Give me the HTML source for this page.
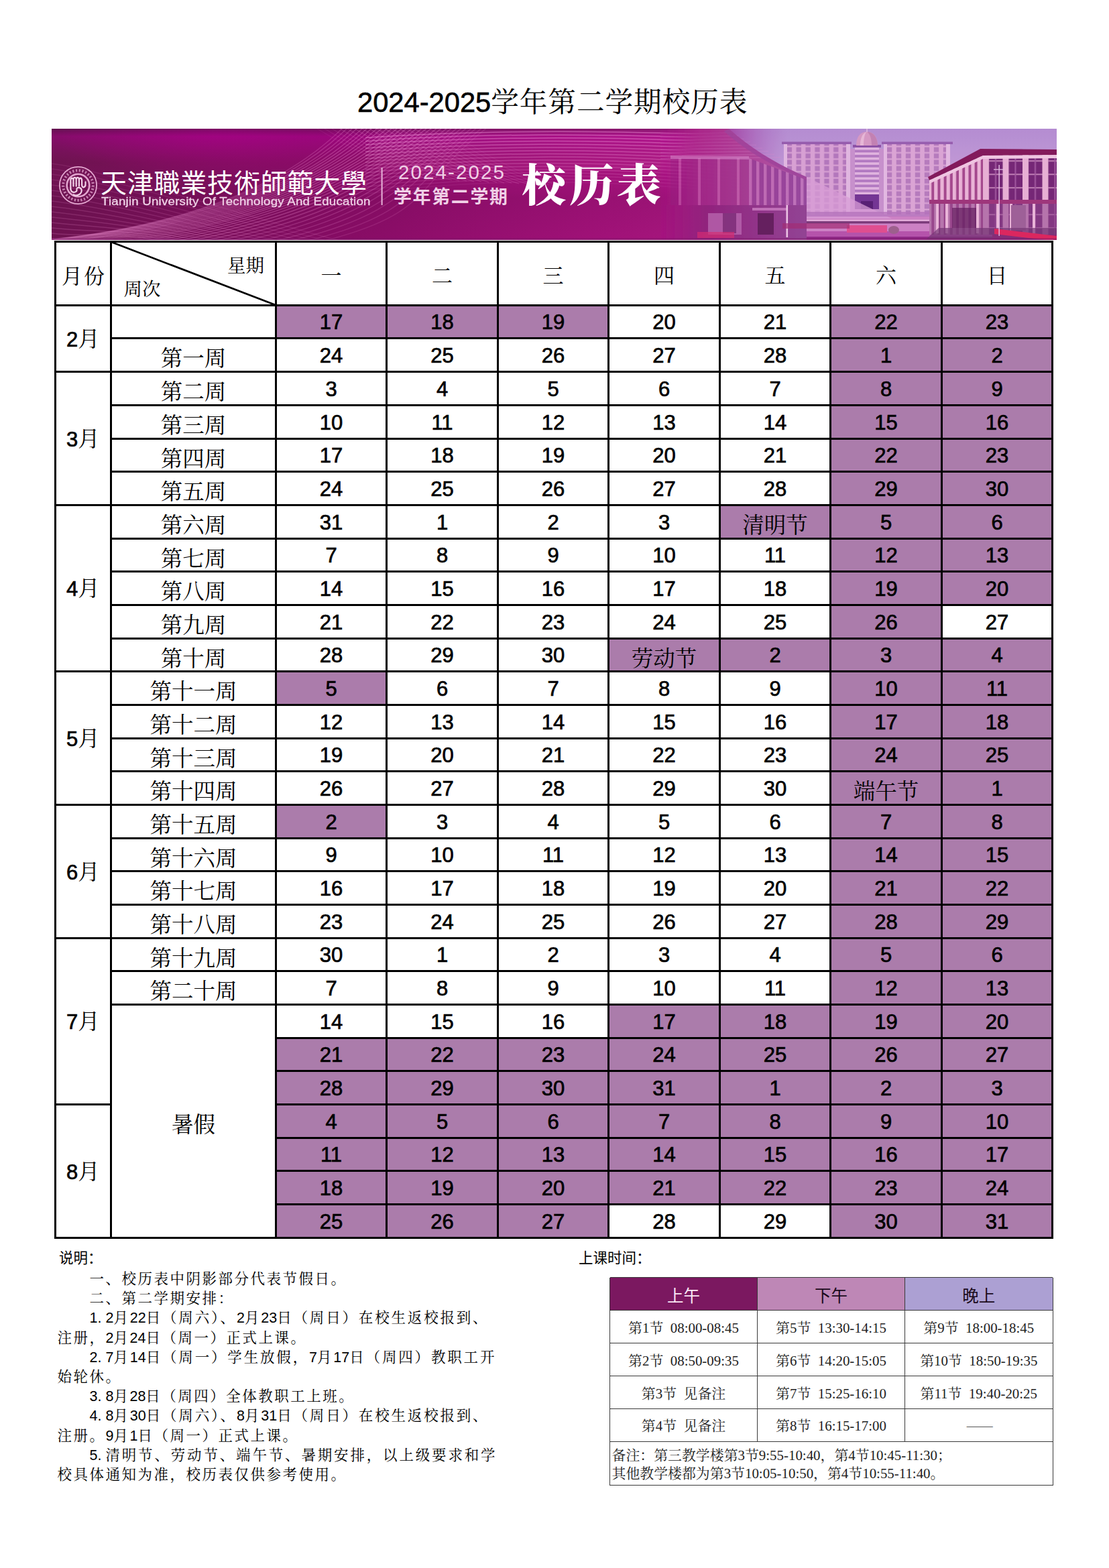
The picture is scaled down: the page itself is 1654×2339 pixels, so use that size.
<!DOCTYPE html>
<html lang="zh-CN">
<head>
<meta charset="utf-8">
<title>2024-2025学年第二学期校历表</title>
<style>
html,body{margin:0;padding:0;background:#fff}
body{width:1654px;height:2339px;position:relative;font-family:"Liberation Sans","Noto Sans CJK SC",sans-serif;color:#000}
#page{position:absolute;left:0;top:0;width:1654px;height:2339px;overflow:hidden;background:#fff}
#page div,#page svg{position:absolute}
.s{font-family:"Liberation Serif","Noto Serif CJK SC",serif}
.n{font-family:"Liberation Sans",sans-serif}
.t{text-align:center;white-space:nowrap;font-size:31px}
.t.n,.mo .n{-webkit-text-stroke:.7px #000}
.w{font-size:32.5px}
.p{background:#ab7cab}
.l{background:#000}
.hei{font-size:21.5px;white-space:nowrap;font-family:"Liberation Sans","Noto Sans CJK SC",sans-serif}
.kai{font-size:21.5px;line-height:30px;white-space:nowrap;font-family:"Liberation Serif","Noto Serif CJK SC",serif}
.kai .d{font-family:"Liberation Sans",sans-serif;font-size:21.5px}
.kai .dot{letter-spacing:6px}
.kai .k{letter-spacing:2.5px}
.kai .k2{letter-spacing:2.83px}
.th{font-size:24.5px;text-align:center;font-family:"Liberation Sans","Noto Sans CJK SC",sans-serif}
.td{font-size:20.9px;text-align:center;white-space:nowrap;color:#222}
.rm{font-size:20.9px;line-height:27.2px;white-space:nowrap;color:#222}
.tl{background:#3a3a3a}
#title{left:533px;top:125px;font-size:41.67px;line-height:56px;white-space:nowrap}
#title .n{-webkit-text-stroke:.6px #000}
#title .s{letter-spacing:.9px}
</style>
</head>
<body>
<div id="page">
<div id="title"><span class="n">2024-2025</span><span class="s">学年第二学期校历表</span></div>
<svg id="banner" style="left:77px;top:192px" width="1499" height="166" viewBox="77 192 1499 166" role="img" aria-label="天津职业技术师范大学 Tianjin University Of Technology And Education 2024-2025 学年第二学期 校历表">
<title>天津职业技术师范大学 2024-2025学年第二学期 校历表</title>
<defs>
<linearGradient id="bgh" x1="77" x2="1576" y1="0" y2="0" gradientUnits="userSpaceOnUse">
<stop offset="0" stop-color="#6e1350"/><stop offset=".12" stop-color="#781058"/><stop offset=".28" stop-color="#880c65"/><stop offset=".42" stop-color="#980f71"/><stop offset=".55" stop-color="#a5127b"/><stop offset=".65" stop-color="#ab1881"/><stop offset="1" stop-color="#ab1881"/>
</linearGradient>
<linearGradient id="bgv" x1="0" x2="0" y1="192" y2="358" gradientUnits="userSpaceOnUse">
<stop offset="0" stop-color="#50104a" stop-opacity=".45"/><stop offset=".07" stop-color="#b0009a" stop-opacity=".35"/><stop offset=".3" stop-color="#a0108a" stop-opacity=".0"/><stop offset=".62" stop-color="#5a0a48" stop-opacity=".18"/><stop offset="1" stop-color="#5a0a48" stop-opacity=".05"/>
</linearGradient>
<radialGradient id="hl1" cx="330" cy="192" r="260" gradientUnits="userSpaceOnUse" gradientTransform="translate(0 192) scale(1 .28) translate(0 -192)">
<stop offset="0" stop-color="#aa0082" stop-opacity=".72"/><stop offset="1" stop-color="#aa0082" stop-opacity="0"/>
</radialGradient>
<linearGradient id="sky" x1="0" x2="0" y1="192" y2="330" gradientUnits="userSpaceOnUse">
<stop offset="0" stop-color="#b49cd8"/><stop offset=".5" stop-color="#c6addf"/><stop offset="1" stop-color="#dcbde2"/>
</linearGradient>
<linearGradient id="skyfade" x1="1085" x2="1175" y1="0" y2="0" gradientUnits="userSpaceOnUse">
<stop offset="0" stop-color="#a040a0" stop-opacity=".85"/><stop offset="1" stop-color="#a66cc0" stop-opacity="0"/>
</linearGradient>
<linearGradient id="lb" x1="985" x2="1205" y1="0" y2="0" gradientUnits="userSpaceOnUse">
<stop offset="0" stop-color="#a5167f" stop-opacity="0"/><stop offset=".25" stop-color="#aa2a88" stop-opacity=".9"/><stop offset=".6" stop-color="#ae4a98"/><stop offset="1" stop-color="#aa64aa"/>
</linearGradient>
<linearGradient id="lbd" x1="985" x2="1205" y1="0" y2="0" gradientUnits="userSpaceOnUse">
<stop offset="0" stop-color="#8c1274" stop-opacity="0"/><stop offset=".3" stop-color="#8a2478" stop-opacity=".9"/><stop offset="1" stop-color="#8e4a94"/>
</linearGradient>
<pattern id="winA" x="1169" y="218" width="13.9" height="9.4" patternUnits="userSpaceOnUse">
<rect width="13.9" height="9.4" fill="#dcb2da"/><rect x="4.6" y="1.6" width="7.4" height="7.2" fill="#b384c0"/>
</pattern>
<pattern id="winB" x="1318" y="218" width="14" height="9.4" patternUnits="userSpaceOnUse">
<rect width="14" height="9.4" fill="#dfb6dc"/><rect x="4.8" y="1.6" width="7.4" height="7.2" fill="#b688c2"/>
</pattern>
<pattern id="twr" x="1275" y="220" width="36" height="7.4" patternUnits="userSpaceOnUse">
<rect width="36" height="7.4" fill="#e6c8e8"/><rect y="3.6" width="36" height="3.8" fill="#b286c6"/>
</pattern>
<pattern id="rbF" x="1466" y="231" width="29.5" height="20" patternUnits="userSpaceOnUse">
<rect width="29.5" height="20" fill="#6d2c72"/><rect x="0" width="9" height="20" fill="#eec3dc"/><rect x="9" y="8" width="20.5" height="2.2" fill="#b880b0"/><rect x="18" width="2" height="20" fill="#a060a0"/>
</pattern>
<pattern id="rbS" x="1384" y="231" width="9.2" height="20" patternUnits="userSpaceOnUse">
<rect width="9.2" height="20" fill="#f0c7de"/><rect x="5.2" width="4" height="20" fill="#a2508c"/>
</pattern>
<pattern id="lbcol" x="1012" y="236" width="29" height="70" patternUnits="userSpaceOnUse">
<rect x="0" width="4" height="70" fill="#e0a0d0" fill-opacity=".34"/><rect x="4" width="25" height="70" fill="#7a2a7c" fill-opacity=".22"/>
</pattern>
<pattern id="lbcol2" x="1117" y="236" width="11" height="70" patternUnits="userSpaceOnUse">
<rect x="0" width="4.5" height="70" fill="#d9a6dc" fill-opacity=".42"/><rect x="4.5" width="6.5" height="70" fill="#7b3c93" fill-opacity=".45"/>
</pattern>
<filter id="soft" x="-2%" y="-5%" width="104%" height="110%"><feGaussianBlur stdDeviation=".75"/></filter>
<clipPath id="bc"><rect x="77" y="192" width="1499" height="166"/></clipPath>
</defs>
<g clip-path="url(#bc)">
<rect x="77" y="192" width="1499" height="166" fill="url(#bgh)"/>
<rect x="77" y="192" width="1499" height="166" fill="url(#hl1)"/>
<rect x="77" y="192" width="1499" height="166" fill="url(#bgv)"/>
<g fill="none" stroke="#ff9fe2" stroke-width="1.5">
<path d="M77 244.0C150 252 390 330 510 360" stroke-opacity="0.10"/>
<path d="M77 252.0C150 260 371 331 491 360" stroke-opacity="0.11"/>
<path d="M77 260.0C150 268 353 331 473 360" stroke-opacity="0.11"/>
<path d="M77 268.0C150 276 334 332 454 360" stroke-opacity="0.12"/>
<path d="M77 276.0C150 284 316 333 436 360" stroke-opacity="0.13"/>
<path d="M77 284.0C150 292 297 334 417 360" stroke-opacity="0.14"/>
<path d="M77 292.0C150 300 279 334 399 360" stroke-opacity="0.14"/>
<path d="M77 300.0C150 308 260 335 380 360" stroke-opacity="0.15"/>
<path d="M77 308.0C150 316 241 336 361 360" stroke-opacity="0.16"/>
<path d="M77 316.0C150 324 223 336 343 360" stroke-opacity="0.16"/>
<path d="M77 324.0C150 332 204 337 324 360" stroke-opacity="0.17"/>
<path d="M77 332.0C150 340 186 338 306 360" stroke-opacity="0.18"/>
<path d="M77 340.0C150 348 167 339 287 360" stroke-opacity="0.19"/>
<path d="M77 348.0C150 356 149 339 269 360" stroke-opacity="0.19"/>
<path d="M77 356.0C150 364 130 340 250 360" stroke-opacity="0.20"/>
<path d="M40 360C210 348 402 300 512 190" stroke-opacity="0.21"/>
<path d="M45 360C215 347 409 299 519 190" stroke-opacity="0.22"/>
<path d="M51 360C221 346 417 298 527 190" stroke-opacity="0.23"/>
<path d="M58 360C228 345 424 297 534 190" stroke-opacity="0.25"/>
<path d="M65 360C235 344 432 297 542 190" stroke-opacity="0.26"/>
<path d="M73 360C243 343 439 296 549 190" stroke-opacity="0.27"/>
<path d="M82 360C252 342 446 295 556 190" stroke-opacity="0.28"/>
<path d="M91 360C261 341 454 294 564 190" stroke-opacity="0.28"/>
<path d="M101 360C271 340 461 293 571 190" stroke-opacity="0.29"/>
<path d="M112 360C282 339 469 292 579 190" stroke-opacity="0.29"/>
<path d="M124 360C294 338 476 291 586 190" stroke-opacity="0.30"/>
<path d="M136 360C306 337 484 291 594 190" stroke-opacity="0.30"/>
<path d="M149 360C319 336 491 290 601 190" stroke-opacity="0.30"/>
<path d="M163 360C333 335 498 289 608 190" stroke-opacity="0.30"/>
<path d="M178 360C348 334 506 288 616 190" stroke-opacity="0.30"/>
<path d="M193 360C363 332 513 287 623 190" stroke-opacity="0.29"/>
<path d="M209 360C379 331 521 286 631 190" stroke-opacity="0.29"/>
<path d="M225 360C395 330 528 285 638 190" stroke-opacity="0.28"/>
<path d="M242 360C412 329 535 284 645 190" stroke-opacity="0.27"/>
<path d="M260 360C430 328 543 284 653 190" stroke-opacity="0.27"/>
<path d="M279 360C449 327 550 283 660 190" stroke-opacity="0.26"/>
<path d="M299 360C469 326 558 282 668 190" stroke-opacity="0.24"/>
<path d="M319 360C489 325 565 281 675 190" stroke-opacity="0.23"/>
<path d="M340 360C510 324 573 280 683 190" stroke-opacity="0.22"/>
<path d="M361 360C531 323 580 279 690 190" stroke-opacity="0.21"/>
<path d="M384 360C554 322 587 278 697 190" stroke-opacity="0.19"/>
<path d="M407 360C577 321 595 278 705 190" stroke-opacity="0.18"/>
<path d="M430 360C600 320 602 277 712 190" stroke-opacity="0.16"/>
<path d="M455 360C625 319 610 276 720 190" stroke-opacity="0.15"/>
<path d="M480 360C650 318 617 275 727 190" stroke-opacity="0.13"/>
<path d="M470 190C510 215 560 240 640 268" stroke-opacity="0.08" stroke-width="1.2"/>
<path d="M481 190C521 215 571 241 651 268" stroke-opacity="0.10" stroke-width="1.2"/>
<path d="M492 190C532 215 582 241 662 269" stroke-opacity="0.12" stroke-width="1.2"/>
<path d="M504 190C544 215 594 242 674 269" stroke-opacity="0.14" stroke-width="1.2"/>
<path d="M515 190C555 215 605 242 685 270" stroke-opacity="0.16" stroke-width="1.2"/>
<path d="M526 190C566 215 616 243 696 270" stroke-opacity="0.18" stroke-width="1.2"/>
<path d="M537 190C577 215 627 244 707 271" stroke-opacity="0.19" stroke-width="1.2"/>
<path d="M548 190C588 215 638 244 718 271" stroke-opacity="0.20" stroke-width="1.2"/>
<path d="M559 190C599 215 649 245 729 272" stroke-opacity="0.20" stroke-width="1.2"/>
<path d="M571 190C611 215 661 245 741 272" stroke-opacity="0.20" stroke-width="1.2"/>
<path d="M582 190C622 215 672 246 752 273" stroke-opacity="0.20" stroke-width="1.2"/>
<path d="M593 190C633 215 683 246 763 273" stroke-opacity="0.19" stroke-width="1.2"/>
<path d="M604 190C644 215 694 247 774 274" stroke-opacity="0.18" stroke-width="1.2"/>
<path d="M615 190C655 215 705 248 785 274" stroke-opacity="0.16" stroke-width="1.2"/>
<path d="M626 190C666 215 716 248 796 275" stroke-opacity="0.14" stroke-width="1.2"/>
<path d="M638 190C678 215 728 249 808 275" stroke-opacity="0.12" stroke-width="1.2"/>
<path d="M649 190C689 215 739 249 819 276" stroke-opacity="0.10" stroke-width="1.2"/>
<path d="M660 190C700 215 750 250 830 276" stroke-opacity="0.08" stroke-width="1.2"/>
<path d="M545 205.5C700 194.5 900 193.5 1110 202.5" stroke="#ffb2ea" stroke-opacity="0.41" stroke-width="1.5"/>
<path d="M545 210.8C700 199.0 900 198.0 1110 207.9" stroke="#ffb2ea" stroke-opacity="0.39" stroke-width="1.5"/>
<path d="M545 216.0C700 203.5 900 202.5 1110 213.2" stroke="#ffb2ea" stroke-opacity="0.38" stroke-width="1.5"/>
<path d="M545 221.2C700 208.0 900 207.0 1110 218.6" stroke="#ffb2ea" stroke-opacity="0.36" stroke-width="1.5"/>
<path d="M545 226.5C700 212.5 900 211.5 1110 224.0" stroke="#ffb2ea" stroke-opacity="0.34" stroke-width="1.5"/>
<path d="M545 231.8C700 217.0 900 216.0 1110 229.4" stroke="#ffb2ea" stroke-opacity="0.32" stroke-width="1.5"/>
<path d="M545 237.0C700 221.5 900 220.5 1110 234.8" stroke="#ffb2ea" stroke-opacity="0.30" stroke-width="1.5"/>
<path d="M545 242.2C700 226.0 900 225.0 1110 240.1" stroke="#ffb2ea" stroke-opacity="0.28" stroke-width="1.5"/>
<path d="M545 247.5C700 230.5 900 229.5 1110 245.5" stroke="#ffb2ea" stroke-opacity="0.27" stroke-width="1.5"/>
<path d="M545 252.8C700 235.0 900 234.0 1110 250.9" stroke="#ffb2ea" stroke-opacity="0.25" stroke-width="1.5"/>
<path d="M545 258.0C700 239.5 900 238.5 1110 256.2" stroke="#ffb2ea" stroke-opacity="0.23" stroke-width="1.5"/>
<path d="M545 263.2C700 244.0 900 243.0 1110 261.6" stroke="#ffb2ea" stroke-opacity="0.20" stroke-width="1.5"/>
<path d="M545 268.5C700 248.5 900 247.5 1110 267.0" stroke="#ffb2ea" stroke-opacity="0.18" stroke-width="1.5"/>
<path d="M545 273.8C700 253.0 900 252.0 1110 272.4" stroke="#ffb2ea" stroke-opacity="0.16" stroke-width="1.5"/>
<path d="M545 279.0C700 257.5 900 256.5 1110 277.8" stroke="#ffb2ea" stroke-opacity="0.13" stroke-width="1.5"/>
<path d="M545 284.2C700 262.0 900 261.0 1110 283.1" stroke="#ffb2ea" stroke-opacity="0.11" stroke-width="1.5"/>
<path d="M545 289.5C700 266.5 900 265.5 1110 288.5" stroke="#ffb2ea" stroke-opacity="0.07" stroke-width="1.5"/>
</g>
<rect x="560" y="192" width="560" height="64" fill="#e070c8" fill-opacity=".07"/>
<g id="photo" filter="url(#soft)">
<path d="M1087 192H1576V330H1203Z" fill="url(#sky)"/>
<path d="M1087 192H1260V300H1203Z" fill="url(#skyfade)"/>
<rect x="1169" y="214" width="99" height="108" fill="url(#winA)"/>
<rect x="1166" y="211.5" width="104" height="3.6" fill="#9266b0"/>
<rect x="1169" y="215" width="5" height="107" fill="#e6cbe9"/><rect x="1262" y="215" width="6" height="107" fill="#e6cbe9"/>
<rect x="1318" y="214" width="99" height="106" fill="url(#winB)"/>
<rect x="1315" y="211.5" width="106" height="3.6" fill="#9468b2"/>
<rect x="1318" y="215" width="5" height="105" fill="#e8cdea"/><rect x="1411" y="215" width="6" height="105" fill="#e8cdea"/>
<rect x="1268" y="222" width="50" height="98" fill="#c9a0d2"/>
<rect x="1275" y="218" width="36" height="74" fill="url(#twr)"/>
<rect x="1275" y="290" width="36" height="22" fill="#6c3a94"/><rect x="1284" y="300" width="18" height="12" fill="#4e2470"/>
<rect x="1272" y="216" width="42" height="4" fill="#8a5aa8"/>
<path d="M1277 217C1277 203 1284 196.5 1293 196.5C1302 196.5 1309 203 1309 217Z" fill="#d9a9c8"/>
<path d="M1283 217C1283 205 1287 198 1293 196.5C1290 198 1288 206 1288 217Z" fill="#f0d4e4" fill-opacity=".8"/>
<path d="M1300 217C1300 206 1297 199 1293 196.5C1302 197 1309 204 1309 217Z" fill="#b27aa8" fill-opacity=".55"/>
<rect x="1292.3" y="192" width="1.4" height="5" fill="#e8d0e8"/>
<path d="M1160 322H1440V358H1100Z" fill="#cf8fca"/>
<path d="M1203 264L1330 326H1203Z" fill="#dcaedd" fill-opacity=".75"/>
<rect x="1165" y="316" width="260" height="7" fill="#b57fc0" fill-opacity=".8"/>
<rect x="1170" y="330" width="235" height="3.4" fill="#5d2a60" fill-opacity=".8"/>
<rect x="1170" y="327.5" width="235" height="2.5" fill="#f0d0ea" fill-opacity=".7"/>
<rect x="1100" y="345" width="380" height="13" fill="#b55cae"/>
<rect x="1100" y="353" width="380" height="5" fill="#8d2f86"/>
<rect x="1263" y="336" width="60" height="11" fill="#e4578f"/>
<ellipse cx="1333" cy="343" rx="8" ry="6" fill="#9a6a8c"/>
<path d="M985 192H1087C1120 222 1160 246 1203 264V358H985Z" fill="url(#lb)"/>
<path d="M1000 236H1117V306H1000Z" fill="url(#lbcol)"/>
<path d="M1117 236L1203 268V310H1117Z" fill="url(#lbcol2)"/>
<path d="M985 200.0L1092 198.0" stroke="#e29ad6" stroke-opacity="0.10" stroke-width="1.6" fill="none"/>
<path d="M985 204.6L1101 202.6" stroke="#e29ad6" stroke-opacity="0.12" stroke-width="1.6" fill="none"/>
<path d="M985 209.2L1110 207.2" stroke="#e29ad6" stroke-opacity="0.14" stroke-width="1.6" fill="none"/>
<path d="M985 213.8L1119 211.8" stroke="#e29ad6" stroke-opacity="0.16" stroke-width="1.6" fill="none"/>
<path d="M985 218.4L1128 216.4" stroke="#e29ad6" stroke-opacity="0.18" stroke-width="1.6" fill="none"/>
<path d="M985 223.0L1137 221.0" stroke="#e29ad6" stroke-opacity="0.20" stroke-width="1.6" fill="none"/>
<path d="M985 227.6L1146 225.6" stroke="#e29ad6" stroke-opacity="0.22" stroke-width="1.6" fill="none"/>
<path d="M985 232.2L1155 230.2" stroke="#e29ad6" stroke-opacity="0.24" stroke-width="1.6" fill="none"/>
<path d="M985 236.8L1164 234.8" stroke="#e29ad6" stroke-opacity="0.26" stroke-width="1.6" fill="none"/>
<path d="M1087 192C1120 222 1160 246 1203 264L1203 269C1160 251 1115 228 1080 196Z" fill="#9b4a9b" fill-opacity=".8"/>
<path d="M1000 232L1117 233L1117 238L1000 237Z" fill="#dd9fd6" fill-opacity=".5"/>
<path d="M985 306H1203V358H985Z" fill="url(#lbd)"/>
<rect x="1056" y="318" width="50" height="32" fill="#bb74b4" fill-opacity=".75"/><rect x="1078" y="318" width="20" height="30" fill="#6a2668" fill-opacity=".7"/>
<rect x="1122" y="310" width="52" height="4" fill="#d08cc8" fill-opacity=".8"/><rect x="1130" y="318" width="24" height="32" fill="#4b1848" fill-opacity=".75"/>
<rect x="1172.5" y="306" width="2.6" height="48" fill="#f3d8ee"/>
<rect x="1040" y="346" width="55" height="9" fill="#d8306e" fill-opacity=".7"/>
<rect x="1167" y="333" width="100" height="8" fill="#a03070" fill-opacity=".7"/>
<path d="M1386 268L1466 231V350H1386Z" fill="url(#rbS)"/>
<rect x="1466" y="231" width="110" height="119" fill="url(#rbF)"/>
<path d="M1384 264L1462 222L1576 223V231L1466 232L1386 269Z" fill="#7d1c55"/>
<path d="M1386 269L1466 232L1576 231V236L1466 237L1386 274Z" fill="#f6dcea"/>
<path d="M1386 298L1466 298H1576V304H1386Z" fill="#9c3a78"/>
<path d="M1386 304H1576V350H1386Z" fill="#8a4a8a" fill-opacity=".55"/>
<rect x="1420" y="310" width="36" height="30" fill="#5a2058" fill-opacity=".7"/>
<rect x="1396" y="304" width="4" height="44" fill="#f0c8e0"/>
<rect x="1410" y="304" width="4" height="44" fill="#f0c8e0"/>
<rect x="1456" y="304" width="4" height="44" fill="#f0c8e0"/>
<rect x="1486" y="304" width="4" height="44" fill="#f0c8e0"/>
<rect x="1506" y="304" width="4" height="44" fill="#f0c8e0"/>
<rect x="1540" y="304" width="4" height="44" fill="#f0c8e0"/>
<rect x="1508" y="306" width="22" height="38" fill="#9c6a98"/>
<path d="M1400 340H1576V358H1380Z" fill="#6d3a70" fill-opacity=".7"/>
<path d="M1483 341L1576 352V358H1560L1483 349Z" fill="#e02a58"/>
<rect x="1489.4" y="246" width="1.6" height="106" fill="#e8d0ea" fill-opacity=".9"/><rect x="1482" y="252" width="16" height="1.6" fill="#e8d0ea" fill-opacity=".8"/>
</g>
<rect x="985" y="192" width="591" height="166" fill="#b8109a" fill-opacity=".11"/>
<rect x="77" y="355.5" width="1499" height="2.5" fill="#7d1a6a" fill-opacity=".55"/>
<g fill="none" stroke="#e3a6cf">
<circle cx="116.5" cy="276.5" r="27.6" stroke-width="1.8"/>
<circle cx="116.5" cy="276.5" r="16.8" stroke-width="2.6"/>
<circle cx="116.5" cy="276.5" r="22.3" stroke-width="4" stroke-dasharray="2.2 2.6" stroke-opacity=".75"/>
<g transform="translate(116.5 277.3) scale(1.28) translate(-116.2 -277.2)" stroke="#f3d5ea" stroke-width="1.7" stroke-linecap="round" stroke-linejoin="round">
<path d="M107.5 281V271C107.5 267.4 110.7 267.4 110.7 271V277.5M110.7 271C110.7 266.2 114 266.2 114 271V277.5M114 271C114 266.2 117.3 266.2 117.3 271V277.5M117.3 271.5C117.3 267 120.6 267 120.6 271.5V276C120.6 280 124.8 279.6 124.8 275.5V272.5"/>
<path d="M107.5 281C108.5 286.5 115.5 285 114.6 281.4C113.8 278 120.8 278.3 120.2 283.4C119.7 287.6 113.6 289.4 110.8 287.4"/>
</g>
</g>
<text x="150" y="287" font-size="39" fill="#fff" textLength="397" lengthAdjust="spacing" style="font-family:'Liberation Sans','Noto Sans CJK TC',sans-serif">天津職業技術師範大學</text>
<rect x="568.6" y="250" width="2" height="56" fill="#e7b3d9"/>
<text x="587" y="303" font-size="27" font-weight="bold" fill="#f0cfe6" textLength="170" lengthAdjust="spacing" style="font-family:'Liberation Sans','Noto Sans CJK SC',sans-serif">学年第二学期</text>
<text x="778" y="300" font-size="66" font-weight="900" fill="#fff" textLength="208" lengthAdjust="spacing" style="font-family:'Liberation Serif','Noto Serif CJK SC',serif">校历表</text>
</g>
</svg>
<div id="ben" style="left:151px;top:289.8px;font-size:17.4px;line-height:20px;color:#f0d3e8;white-space:nowrap;letter-spacing:.2px;-webkit-text-stroke:.3px #f0d3e8;transform:scaleX(1.075);transform-origin:0 0">Tianjin University Of Technology And Education</div>
<div id="byr" style="left:594px;top:240px;font-size:29.5px;line-height:34px;color:#f0cfe6;white-space:nowrap;letter-spacing:2.1px">2024-2025</div>
<div id="grid">
<div class="p" style="left:410px;top:454px;width:499px;height:52px"></div>
<div class="p" style="left:1237px;top:454px;width:334px;height:52px"></div>
<div class="p" style="left:1237px;top:503px;width:334px;height:53px"></div>
<div class="p" style="left:1237px;top:553px;width:334px;height:53px"></div>
<div class="p" style="left:1237px;top:603px;width:334px;height:53px"></div>
<div class="p" style="left:1237px;top:653px;width:334px;height:52px"></div>
<div class="p" style="left:1237px;top:702px;width:334px;height:53px"></div>
<div class="p" style="left:1072px;top:752px;width:499px;height:53px"></div>
<div class="p" style="left:1237px;top:802px;width:334px;height:52px"></div>
<div class="p" style="left:1237px;top:851px;width:334px;height:53px"></div>
<div class="p" style="left:1237px;top:901px;width:169px;height:53px"></div>
<div class="p" style="left:906px;top:951px;width:665px;height:52px"></div>
<div class="p" style="left:410px;top:1000px;width:168px;height:53px"></div>
<div class="p" style="left:1237px;top:1000px;width:334px;height:53px"></div>
<div class="p" style="left:1237px;top:1050px;width:334px;height:53px"></div>
<div class="p" style="left:1237px;top:1100px;width:334px;height:52px"></div>
<div class="p" style="left:1237px;top:1149px;width:334px;height:53px"></div>
<div class="p" style="left:410px;top:1199px;width:168px;height:53px"></div>
<div class="p" style="left:1237px;top:1199px;width:334px;height:53px"></div>
<div class="p" style="left:1237px;top:1249px;width:334px;height:52px"></div>
<div class="p" style="left:1237px;top:1298px;width:334px;height:53px"></div>
<div class="p" style="left:1237px;top:1348px;width:334px;height:53px"></div>
<div class="p" style="left:1237px;top:1398px;width:334px;height:52px"></div>
<div class="p" style="left:1237px;top:1447px;width:334px;height:53px"></div>
<div class="p" style="left:906px;top:1497px;width:665px;height:53px"></div>
<div class="p" style="left:410px;top:1547px;width:1161px;height:52px"></div>
<div class="p" style="left:410px;top:1596px;width:1161px;height:53px"></div>
<div class="p" style="left:410px;top:1646px;width:1161px;height:53px"></div>
<div class="p" style="left:410px;top:1696px;width:1161px;height:52px"></div>
<div class="p" style="left:410px;top:1745px;width:1161px;height:53px"></div>
<div class="p" style="left:410px;top:1795px;width:499px;height:53px"></div>
<div class="p" style="left:1237px;top:1795px;width:334px;height:53px"></div>
<div class="l" style="left:81px;top:359px;width:3px;height:1489px"></div>
<div class="l" style="left:164px;top:359px;width:3px;height:1489px"></div>
<div class="l" style="left:410px;top:359px;width:3px;height:1489px"></div>
<div class="l" style="left:575px;top:359px;width:3px;height:1489px"></div>
<div class="l" style="left:741px;top:359px;width:3px;height:1489px"></div>
<div class="l" style="left:906px;top:359px;width:3px;height:1489px"></div>
<div class="l" style="left:1072px;top:359px;width:3px;height:1489px"></div>
<div class="l" style="left:1237px;top:359px;width:3px;height:1489px"></div>
<div class="l" style="left:1403px;top:359px;width:3px;height:1489px"></div>
<div class="l" style="left:1568px;top:359px;width:3px;height:1489px"></div>
<div class="l" style="left:81px;top:359px;width:1490px;height:3px"></div>
<div class="l" style="left:81px;top:454px;width:1490px;height:3px"></div>
<div class="l" style="left:164px;top:503px;width:1407px;height:3px"></div>
<div class="l" style="left:81px;top:553px;width:1490px;height:3px"></div>
<div class="l" style="left:164px;top:603px;width:1407px;height:3px"></div>
<div class="l" style="left:164px;top:653px;width:1407px;height:3px"></div>
<div class="l" style="left:164px;top:702px;width:1407px;height:3px"></div>
<div class="l" style="left:81px;top:752px;width:1490px;height:3px"></div>
<div class="l" style="left:164px;top:802px;width:1407px;height:3px"></div>
<div class="l" style="left:164px;top:851px;width:1407px;height:3px"></div>
<div class="l" style="left:164px;top:901px;width:1407px;height:3px"></div>
<div class="l" style="left:164px;top:951px;width:1407px;height:3px"></div>
<div class="l" style="left:81px;top:1000px;width:1490px;height:3px"></div>
<div class="l" style="left:164px;top:1050px;width:1407px;height:3px"></div>
<div class="l" style="left:164px;top:1100px;width:1407px;height:3px"></div>
<div class="l" style="left:164px;top:1149px;width:1407px;height:3px"></div>
<div class="l" style="left:81px;top:1199px;width:1490px;height:3px"></div>
<div class="l" style="left:164px;top:1249px;width:1407px;height:3px"></div>
<div class="l" style="left:164px;top:1298px;width:1407px;height:3px"></div>
<div class="l" style="left:164px;top:1348px;width:1407px;height:3px"></div>
<div class="l" style="left:81px;top:1398px;width:1490px;height:3px"></div>
<div class="l" style="left:164px;top:1447px;width:1407px;height:3px"></div>
<div class="l" style="left:164px;top:1497px;width:1407px;height:3px"></div>
<div class="l" style="left:410px;top:1547px;width:1161px;height:3px"></div>
<div class="l" style="left:410px;top:1596px;width:1161px;height:3px"></div>
<div class="l" style="left:81px;top:1646px;width:86px;height:3px"></div>
<div class="l" style="left:410px;top:1646px;width:1161px;height:3px"></div>
<div class="l" style="left:410px;top:1696px;width:1161px;height:3px"></div>
<div class="l" style="left:410px;top:1745px;width:1161px;height:3px"></div>
<div class="l" style="left:410px;top:1795px;width:1161px;height:3px"></div>
<div class="l" style="left:81px;top:1845px;width:1490px;height:3px"></div>
<svg class="dg" style="left:164px;top:359px" width="249" height="98"><line x1="2" y1="2" x2="247" y2="96" stroke="#000" stroke-width="2.6"/></svg>
</div>
<div class="t s" style="left:84px;top:367.4px;width:80px;height:92px;line-height:92px;"><span style="letter-spacing:2px;margin-right:-2px">月份</span></div>
<div class="t s" style="left:294px;top:378.1px;width:100px;text-align:right;line-height:36px"><span style="font-size:27.5px">星期</span></div>
<div class="t s" style="left:184.5px;top:413.1px;width:100px;text-align:left;line-height:36px"><span style="font-size:27.5px">周次</span></div>
<div class="t s" style="left:413px;top:366.4px;width:162px;height:92px;line-height:92px;">一</div>
<div class="t s" style="left:578px;top:366.4px;width:163px;height:92px;line-height:92px;">二</div>
<div class="t s" style="left:744px;top:366.4px;width:162px;height:92px;line-height:92px;">三</div>
<div class="t s" style="left:909px;top:366.4px;width:163px;height:92px;line-height:92px;">四</div>
<div class="t s" style="left:1075px;top:366.4px;width:162px;height:92px;line-height:92px;">五</div>
<div class="t s" style="left:1240px;top:366.4px;width:163px;height:92px;line-height:92px;">六</div>
<div class="t s" style="left:1406px;top:366.4px;width:162px;height:92px;line-height:92px;">日</div>
<div class="t mo" style="left:84px;top:458px;width:80px;height:96px;line-height:96px;"><span class="n">2</span><span class="s w">月</span></div>
<div class="t mo" style="left:84px;top:557px;width:80px;height:196px;line-height:196px;"><span class="n">3</span><span class="s w">月</span></div>
<div class="t mo" style="left:84px;top:756px;width:80px;height:245px;line-height:245px;"><span class="n">4</span><span class="s w">月</span></div>
<div class="t mo" style="left:84px;top:1004px;width:80px;height:196px;line-height:196px;"><span class="n">5</span><span class="s w">月</span></div>
<div class="t mo" style="left:84px;top:1203px;width:80px;height:196px;line-height:196px;"><span class="n">6</span><span class="s w">月</span></div>
<div class="t mo" style="left:84px;top:1402px;width:80px;height:245px;line-height:245px;"><span class="n">7</span><span class="s w">月</span></div>
<div class="t mo" style="left:84px;top:1650px;width:80px;height:196px;line-height:196px;"><span class="n">8</span><span class="s w">月</span></div>
<div class="t n" style="left:413px;top:457.7px;width:162px;height:46px;line-height:46px;">17</div>
<div class="t n" style="left:578px;top:457.7px;width:163px;height:46px;line-height:46px;">18</div>
<div class="t n" style="left:744px;top:457.7px;width:162px;height:46px;line-height:46px;">19</div>
<div class="t n" style="left:909px;top:457.7px;width:163px;height:46px;line-height:46px;">20</div>
<div class="t n" style="left:1075px;top:457.7px;width:162px;height:46px;line-height:46px;">21</div>
<div class="t n" style="left:1240px;top:457.7px;width:163px;height:46px;line-height:46px;">22</div>
<div class="t n" style="left:1406px;top:457.7px;width:162px;height:46px;line-height:46px;">23</div>
<div class="t s" style="left:167px;top:511.5px;width:243px;height:47px;line-height:47px;"><span class="w">第一周</span></div>
<div class="t n" style="left:413px;top:506.7px;width:162px;height:47px;line-height:47px;">24</div>
<div class="t n" style="left:578px;top:506.7px;width:163px;height:47px;line-height:47px;">25</div>
<div class="t n" style="left:744px;top:506.7px;width:162px;height:47px;line-height:47px;">26</div>
<div class="t n" style="left:909px;top:506.7px;width:163px;height:47px;line-height:47px;">27</div>
<div class="t n" style="left:1075px;top:506.7px;width:162px;height:47px;line-height:47px;">28</div>
<div class="t n" style="left:1240px;top:506.7px;width:163px;height:47px;line-height:47px;">1</div>
<div class="t n" style="left:1406px;top:506.7px;width:162px;height:47px;line-height:47px;">2</div>
<div class="t s" style="left:167px;top:561.5px;width:243px;height:47px;line-height:47px;"><span class="w">第二周</span></div>
<div class="t n" style="left:413px;top:556.7px;width:162px;height:47px;line-height:47px;">3</div>
<div class="t n" style="left:578px;top:556.7px;width:163px;height:47px;line-height:47px;">4</div>
<div class="t n" style="left:744px;top:556.7px;width:162px;height:47px;line-height:47px;">5</div>
<div class="t n" style="left:909px;top:556.7px;width:163px;height:47px;line-height:47px;">6</div>
<div class="t n" style="left:1075px;top:556.7px;width:162px;height:47px;line-height:47px;">7</div>
<div class="t n" style="left:1240px;top:556.7px;width:163px;height:47px;line-height:47px;">8</div>
<div class="t n" style="left:1406px;top:556.7px;width:162px;height:47px;line-height:47px;">9</div>
<div class="t s" style="left:167px;top:611.5px;width:243px;height:47px;line-height:47px;"><span class="w">第三周</span></div>
<div class="t n" style="left:413px;top:606.7px;width:162px;height:47px;line-height:47px;">10</div>
<div class="t n" style="left:578px;top:606.7px;width:163px;height:47px;line-height:47px;">11</div>
<div class="t n" style="left:744px;top:606.7px;width:162px;height:47px;line-height:47px;">12</div>
<div class="t n" style="left:909px;top:606.7px;width:163px;height:47px;line-height:47px;">13</div>
<div class="t n" style="left:1075px;top:606.7px;width:162px;height:47px;line-height:47px;">14</div>
<div class="t n" style="left:1240px;top:606.7px;width:163px;height:47px;line-height:47px;">15</div>
<div class="t n" style="left:1406px;top:606.7px;width:162px;height:47px;line-height:47px;">16</div>
<div class="t s" style="left:167px;top:661.5px;width:243px;height:46px;line-height:46px;"><span class="w">第四周</span></div>
<div class="t n" style="left:413px;top:656.7px;width:162px;height:46px;line-height:46px;">17</div>
<div class="t n" style="left:578px;top:656.7px;width:163px;height:46px;line-height:46px;">18</div>
<div class="t n" style="left:744px;top:656.7px;width:162px;height:46px;line-height:46px;">19</div>
<div class="t n" style="left:909px;top:656.7px;width:163px;height:46px;line-height:46px;">20</div>
<div class="t n" style="left:1075px;top:656.7px;width:162px;height:46px;line-height:46px;">21</div>
<div class="t n" style="left:1240px;top:656.7px;width:163px;height:46px;line-height:46px;">22</div>
<div class="t n" style="left:1406px;top:656.7px;width:162px;height:46px;line-height:46px;">23</div>
<div class="t s" style="left:167px;top:710.5px;width:243px;height:47px;line-height:47px;"><span class="w">第五周</span></div>
<div class="t n" style="left:413px;top:705.7px;width:162px;height:47px;line-height:47px;">24</div>
<div class="t n" style="left:578px;top:705.7px;width:163px;height:47px;line-height:47px;">25</div>
<div class="t n" style="left:744px;top:705.7px;width:162px;height:47px;line-height:47px;">26</div>
<div class="t n" style="left:909px;top:705.7px;width:163px;height:47px;line-height:47px;">27</div>
<div class="t n" style="left:1075px;top:705.7px;width:162px;height:47px;line-height:47px;">28</div>
<div class="t n" style="left:1240px;top:705.7px;width:163px;height:47px;line-height:47px;">29</div>
<div class="t n" style="left:1406px;top:705.7px;width:162px;height:47px;line-height:47px;">30</div>
<div class="t s" style="left:167px;top:760.5px;width:243px;height:47px;line-height:47px;"><span class="w">第六周</span></div>
<div class="t n" style="left:413px;top:755.7px;width:162px;height:47px;line-height:47px;">31</div>
<div class="t n" style="left:578px;top:755.7px;width:163px;height:47px;line-height:47px;">1</div>
<div class="t n" style="left:744px;top:755.7px;width:162px;height:47px;line-height:47px;">2</div>
<div class="t n" style="left:909px;top:755.7px;width:163px;height:47px;line-height:47px;">3</div>
<div class="t s" style="left:1075px;top:760.5px;width:162px;height:47px;line-height:47px;"><span class="w">清明节</span></div>
<div class="t n" style="left:1240px;top:755.7px;width:163px;height:47px;line-height:47px;">5</div>
<div class="t n" style="left:1406px;top:755.7px;width:162px;height:47px;line-height:47px;">6</div>
<div class="t s" style="left:167px;top:810.5px;width:243px;height:46px;line-height:46px;"><span class="w">第七周</span></div>
<div class="t n" style="left:413px;top:805.7px;width:162px;height:46px;line-height:46px;">7</div>
<div class="t n" style="left:578px;top:805.7px;width:163px;height:46px;line-height:46px;">8</div>
<div class="t n" style="left:744px;top:805.7px;width:162px;height:46px;line-height:46px;">9</div>
<div class="t n" style="left:909px;top:805.7px;width:163px;height:46px;line-height:46px;">10</div>
<div class="t n" style="left:1075px;top:805.7px;width:162px;height:46px;line-height:46px;">11</div>
<div class="t n" style="left:1240px;top:805.7px;width:163px;height:46px;line-height:46px;">12</div>
<div class="t n" style="left:1406px;top:805.7px;width:162px;height:46px;line-height:46px;">13</div>
<div class="t s" style="left:167px;top:859.5px;width:243px;height:47px;line-height:47px;"><span class="w">第八周</span></div>
<div class="t n" style="left:413px;top:854.7px;width:162px;height:47px;line-height:47px;">14</div>
<div class="t n" style="left:578px;top:854.7px;width:163px;height:47px;line-height:47px;">15</div>
<div class="t n" style="left:744px;top:854.7px;width:162px;height:47px;line-height:47px;">16</div>
<div class="t n" style="left:909px;top:854.7px;width:163px;height:47px;line-height:47px;">17</div>
<div class="t n" style="left:1075px;top:854.7px;width:162px;height:47px;line-height:47px;">18</div>
<div class="t n" style="left:1240px;top:854.7px;width:163px;height:47px;line-height:47px;">19</div>
<div class="t n" style="left:1406px;top:854.7px;width:162px;height:47px;line-height:47px;">20</div>
<div class="t s" style="left:167px;top:909.5px;width:243px;height:47px;line-height:47px;"><span class="w">第九周</span></div>
<div class="t n" style="left:413px;top:904.7px;width:162px;height:47px;line-height:47px;">21</div>
<div class="t n" style="left:578px;top:904.7px;width:163px;height:47px;line-height:47px;">22</div>
<div class="t n" style="left:744px;top:904.7px;width:162px;height:47px;line-height:47px;">23</div>
<div class="t n" style="left:909px;top:904.7px;width:163px;height:47px;line-height:47px;">24</div>
<div class="t n" style="left:1075px;top:904.7px;width:162px;height:47px;line-height:47px;">25</div>
<div class="t n" style="left:1240px;top:904.7px;width:163px;height:47px;line-height:47px;">26</div>
<div class="t n" style="left:1406px;top:904.7px;width:162px;height:47px;line-height:47px;">27</div>
<div class="t s" style="left:167px;top:959.5px;width:243px;height:46px;line-height:46px;"><span class="w">第十周</span></div>
<div class="t n" style="left:413px;top:954.7px;width:162px;height:46px;line-height:46px;">28</div>
<div class="t n" style="left:578px;top:954.7px;width:163px;height:46px;line-height:46px;">29</div>
<div class="t n" style="left:744px;top:954.7px;width:162px;height:46px;line-height:46px;">30</div>
<div class="t s" style="left:909px;top:959.5px;width:163px;height:46px;line-height:46px;"><span class="w">劳动节</span></div>
<div class="t n" style="left:1075px;top:954.7px;width:162px;height:46px;line-height:46px;">2</div>
<div class="t n" style="left:1240px;top:954.7px;width:163px;height:46px;line-height:46px;">3</div>
<div class="t n" style="left:1406px;top:954.7px;width:162px;height:46px;line-height:46px;">4</div>
<div class="t s" style="left:167px;top:1008.5px;width:243px;height:47px;line-height:47px;"><span class="w">第十一周</span></div>
<div class="t n" style="left:413px;top:1003.7px;width:162px;height:47px;line-height:47px;">5</div>
<div class="t n" style="left:578px;top:1003.7px;width:163px;height:47px;line-height:47px;">6</div>
<div class="t n" style="left:744px;top:1003.7px;width:162px;height:47px;line-height:47px;">7</div>
<div class="t n" style="left:909px;top:1003.7px;width:163px;height:47px;line-height:47px;">8</div>
<div class="t n" style="left:1075px;top:1003.7px;width:162px;height:47px;line-height:47px;">9</div>
<div class="t n" style="left:1240px;top:1003.7px;width:163px;height:47px;line-height:47px;">10</div>
<div class="t n" style="left:1406px;top:1003.7px;width:162px;height:47px;line-height:47px;">11</div>
<div class="t s" style="left:167px;top:1058.5px;width:243px;height:47px;line-height:47px;"><span class="w">第十二周</span></div>
<div class="t n" style="left:413px;top:1053.7px;width:162px;height:47px;line-height:47px;">12</div>
<div class="t n" style="left:578px;top:1053.7px;width:163px;height:47px;line-height:47px;">13</div>
<div class="t n" style="left:744px;top:1053.7px;width:162px;height:47px;line-height:47px;">14</div>
<div class="t n" style="left:909px;top:1053.7px;width:163px;height:47px;line-height:47px;">15</div>
<div class="t n" style="left:1075px;top:1053.7px;width:162px;height:47px;line-height:47px;">16</div>
<div class="t n" style="left:1240px;top:1053.7px;width:163px;height:47px;line-height:47px;">17</div>
<div class="t n" style="left:1406px;top:1053.7px;width:162px;height:47px;line-height:47px;">18</div>
<div class="t s" style="left:167px;top:1108.5px;width:243px;height:46px;line-height:46px;"><span class="w">第十三周</span></div>
<div class="t n" style="left:413px;top:1103.7px;width:162px;height:46px;line-height:46px;">19</div>
<div class="t n" style="left:578px;top:1103.7px;width:163px;height:46px;line-height:46px;">20</div>
<div class="t n" style="left:744px;top:1103.7px;width:162px;height:46px;line-height:46px;">21</div>
<div class="t n" style="left:909px;top:1103.7px;width:163px;height:46px;line-height:46px;">22</div>
<div class="t n" style="left:1075px;top:1103.7px;width:162px;height:46px;line-height:46px;">23</div>
<div class="t n" style="left:1240px;top:1103.7px;width:163px;height:46px;line-height:46px;">24</div>
<div class="t n" style="left:1406px;top:1103.7px;width:162px;height:46px;line-height:46px;">25</div>
<div class="t s" style="left:167px;top:1157.5px;width:243px;height:47px;line-height:47px;"><span class="w">第十四周</span></div>
<div class="t n" style="left:413px;top:1152.7px;width:162px;height:47px;line-height:47px;">26</div>
<div class="t n" style="left:578px;top:1152.7px;width:163px;height:47px;line-height:47px;">27</div>
<div class="t n" style="left:744px;top:1152.7px;width:162px;height:47px;line-height:47px;">28</div>
<div class="t n" style="left:909px;top:1152.7px;width:163px;height:47px;line-height:47px;">29</div>
<div class="t n" style="left:1075px;top:1152.7px;width:162px;height:47px;line-height:47px;">30</div>
<div class="t s" style="left:1240px;top:1157.5px;width:163px;height:47px;line-height:47px;"><span class="w">端午节</span></div>
<div class="t n" style="left:1406px;top:1152.7px;width:162px;height:47px;line-height:47px;">1</div>
<div class="t s" style="left:167px;top:1207.5px;width:243px;height:47px;line-height:47px;"><span class="w">第十五周</span></div>
<div class="t n" style="left:413px;top:1202.7px;width:162px;height:47px;line-height:47px;">2</div>
<div class="t n" style="left:578px;top:1202.7px;width:163px;height:47px;line-height:47px;">3</div>
<div class="t n" style="left:744px;top:1202.7px;width:162px;height:47px;line-height:47px;">4</div>
<div class="t n" style="left:909px;top:1202.7px;width:163px;height:47px;line-height:47px;">5</div>
<div class="t n" style="left:1075px;top:1202.7px;width:162px;height:47px;line-height:47px;">6</div>
<div class="t n" style="left:1240px;top:1202.7px;width:163px;height:47px;line-height:47px;">7</div>
<div class="t n" style="left:1406px;top:1202.7px;width:162px;height:47px;line-height:47px;">8</div>
<div class="t s" style="left:167px;top:1257.5px;width:243px;height:46px;line-height:46px;"><span class="w">第十六周</span></div>
<div class="t n" style="left:413px;top:1252.7px;width:162px;height:46px;line-height:46px;">9</div>
<div class="t n" style="left:578px;top:1252.7px;width:163px;height:46px;line-height:46px;">10</div>
<div class="t n" style="left:744px;top:1252.7px;width:162px;height:46px;line-height:46px;">11</div>
<div class="t n" style="left:909px;top:1252.7px;width:163px;height:46px;line-height:46px;">12</div>
<div class="t n" style="left:1075px;top:1252.7px;width:162px;height:46px;line-height:46px;">13</div>
<div class="t n" style="left:1240px;top:1252.7px;width:163px;height:46px;line-height:46px;">14</div>
<div class="t n" style="left:1406px;top:1252.7px;width:162px;height:46px;line-height:46px;">15</div>
<div class="t s" style="left:167px;top:1306.5px;width:243px;height:47px;line-height:47px;"><span class="w">第十七周</span></div>
<div class="t n" style="left:413px;top:1301.7px;width:162px;height:47px;line-height:47px;">16</div>
<div class="t n" style="left:578px;top:1301.7px;width:163px;height:47px;line-height:47px;">17</div>
<div class="t n" style="left:744px;top:1301.7px;width:162px;height:47px;line-height:47px;">18</div>
<div class="t n" style="left:909px;top:1301.7px;width:163px;height:47px;line-height:47px;">19</div>
<div class="t n" style="left:1075px;top:1301.7px;width:162px;height:47px;line-height:47px;">20</div>
<div class="t n" style="left:1240px;top:1301.7px;width:163px;height:47px;line-height:47px;">21</div>
<div class="t n" style="left:1406px;top:1301.7px;width:162px;height:47px;line-height:47px;">22</div>
<div class="t s" style="left:167px;top:1356.5px;width:243px;height:47px;line-height:47px;"><span class="w">第十八周</span></div>
<div class="t n" style="left:413px;top:1351.7px;width:162px;height:47px;line-height:47px;">23</div>
<div class="t n" style="left:578px;top:1351.7px;width:163px;height:47px;line-height:47px;">24</div>
<div class="t n" style="left:744px;top:1351.7px;width:162px;height:47px;line-height:47px;">25</div>
<div class="t n" style="left:909px;top:1351.7px;width:163px;height:47px;line-height:47px;">26</div>
<div class="t n" style="left:1075px;top:1351.7px;width:162px;height:47px;line-height:47px;">27</div>
<div class="t n" style="left:1240px;top:1351.7px;width:163px;height:47px;line-height:47px;">28</div>
<div class="t n" style="left:1406px;top:1351.7px;width:162px;height:47px;line-height:47px;">29</div>
<div class="t s" style="left:167px;top:1406.5px;width:243px;height:46px;line-height:46px;"><span class="w">第十九周</span></div>
<div class="t n" style="left:413px;top:1401.7px;width:162px;height:46px;line-height:46px;">30</div>
<div class="t n" style="left:578px;top:1401.7px;width:163px;height:46px;line-height:46px;">1</div>
<div class="t n" style="left:744px;top:1401.7px;width:162px;height:46px;line-height:46px;">2</div>
<div class="t n" style="left:909px;top:1401.7px;width:163px;height:46px;line-height:46px;">3</div>
<div class="t n" style="left:1075px;top:1401.7px;width:162px;height:46px;line-height:46px;">4</div>
<div class="t n" style="left:1240px;top:1401.7px;width:163px;height:46px;line-height:46px;">5</div>
<div class="t n" style="left:1406px;top:1401.7px;width:162px;height:46px;line-height:46px;">6</div>
<div class="t s" style="left:167px;top:1455.5px;width:243px;height:47px;line-height:47px;"><span class="w">第二十周</span></div>
<div class="t n" style="left:413px;top:1450.7px;width:162px;height:47px;line-height:47px;">7</div>
<div class="t n" style="left:578px;top:1450.7px;width:163px;height:47px;line-height:47px;">8</div>
<div class="t n" style="left:744px;top:1450.7px;width:162px;height:47px;line-height:47px;">9</div>
<div class="t n" style="left:909px;top:1450.7px;width:163px;height:47px;line-height:47px;">10</div>
<div class="t n" style="left:1075px;top:1450.7px;width:162px;height:47px;line-height:47px;">11</div>
<div class="t n" style="left:1240px;top:1450.7px;width:163px;height:47px;line-height:47px;">12</div>
<div class="t n" style="left:1406px;top:1450.7px;width:162px;height:47px;line-height:47px;">13</div>
<div class="t n" style="left:413px;top:1500.7px;width:162px;height:47px;line-height:47px;">14</div>
<div class="t n" style="left:578px;top:1500.7px;width:163px;height:47px;line-height:47px;">15</div>
<div class="t n" style="left:744px;top:1500.7px;width:162px;height:47px;line-height:47px;">16</div>
<div class="t n" style="left:909px;top:1500.7px;width:163px;height:47px;line-height:47px;">17</div>
<div class="t n" style="left:1075px;top:1500.7px;width:162px;height:47px;line-height:47px;">18</div>
<div class="t n" style="left:1240px;top:1500.7px;width:163px;height:47px;line-height:47px;">19</div>
<div class="t n" style="left:1406px;top:1500.7px;width:162px;height:47px;line-height:47px;">20</div>
<div class="t n" style="left:413px;top:1550.7px;width:162px;height:46px;line-height:46px;">21</div>
<div class="t n" style="left:578px;top:1550.7px;width:163px;height:46px;line-height:46px;">22</div>
<div class="t n" style="left:744px;top:1550.7px;width:162px;height:46px;line-height:46px;">23</div>
<div class="t n" style="left:909px;top:1550.7px;width:163px;height:46px;line-height:46px;">24</div>
<div class="t n" style="left:1075px;top:1550.7px;width:162px;height:46px;line-height:46px;">25</div>
<div class="t n" style="left:1240px;top:1550.7px;width:163px;height:46px;line-height:46px;">26</div>
<div class="t n" style="left:1406px;top:1550.7px;width:162px;height:46px;line-height:46px;">27</div>
<div class="t n" style="left:413px;top:1599.7px;width:162px;height:47px;line-height:47px;">28</div>
<div class="t n" style="left:578px;top:1599.7px;width:163px;height:47px;line-height:47px;">29</div>
<div class="t n" style="left:744px;top:1599.7px;width:162px;height:47px;line-height:47px;">30</div>
<div class="t n" style="left:909px;top:1599.7px;width:163px;height:47px;line-height:47px;">31</div>
<div class="t n" style="left:1075px;top:1599.7px;width:162px;height:47px;line-height:47px;">1</div>
<div class="t n" style="left:1240px;top:1599.7px;width:163px;height:47px;line-height:47px;">2</div>
<div class="t n" style="left:1406px;top:1599.7px;width:162px;height:47px;line-height:47px;">3</div>
<div class="t n" style="left:413px;top:1649.7px;width:162px;height:47px;line-height:47px;">4</div>
<div class="t n" style="left:578px;top:1649.7px;width:163px;height:47px;line-height:47px;">5</div>
<div class="t n" style="left:744px;top:1649.7px;width:162px;height:47px;line-height:47px;">6</div>
<div class="t n" style="left:909px;top:1649.7px;width:163px;height:47px;line-height:47px;">7</div>
<div class="t n" style="left:1075px;top:1649.7px;width:162px;height:47px;line-height:47px;">8</div>
<div class="t n" style="left:1240px;top:1649.7px;width:163px;height:47px;line-height:47px;">9</div>
<div class="t n" style="left:1406px;top:1649.7px;width:162px;height:47px;line-height:47px;">10</div>
<div class="t n" style="left:413px;top:1699.7px;width:162px;height:46px;line-height:46px;">11</div>
<div class="t n" style="left:578px;top:1699.7px;width:163px;height:46px;line-height:46px;">12</div>
<div class="t n" style="left:744px;top:1699.7px;width:162px;height:46px;line-height:46px;">13</div>
<div class="t n" style="left:909px;top:1699.7px;width:163px;height:46px;line-height:46px;">14</div>
<div class="t n" style="left:1075px;top:1699.7px;width:162px;height:46px;line-height:46px;">15</div>
<div class="t n" style="left:1240px;top:1699.7px;width:163px;height:46px;line-height:46px;">16</div>
<div class="t n" style="left:1406px;top:1699.7px;width:162px;height:46px;line-height:46px;">17</div>
<div class="t n" style="left:413px;top:1748.7px;width:162px;height:47px;line-height:47px;">18</div>
<div class="t n" style="left:578px;top:1748.7px;width:163px;height:47px;line-height:47px;">19</div>
<div class="t n" style="left:744px;top:1748.7px;width:162px;height:47px;line-height:47px;">20</div>
<div class="t n" style="left:909px;top:1748.7px;width:163px;height:47px;line-height:47px;">21</div>
<div class="t n" style="left:1075px;top:1748.7px;width:162px;height:47px;line-height:47px;">22</div>
<div class="t n" style="left:1240px;top:1748.7px;width:163px;height:47px;line-height:47px;">23</div>
<div class="t n" style="left:1406px;top:1748.7px;width:162px;height:47px;line-height:47px;">24</div>
<div class="t n" style="left:413px;top:1798.7px;width:162px;height:47px;line-height:47px;">25</div>
<div class="t n" style="left:578px;top:1798.7px;width:163px;height:47px;line-height:47px;">26</div>
<div class="t n" style="left:744px;top:1798.7px;width:162px;height:47px;line-height:47px;">27</div>
<div class="t n" style="left:909px;top:1798.7px;width:163px;height:47px;line-height:47px;">28</div>
<div class="t n" style="left:1075px;top:1798.7px;width:162px;height:47px;line-height:47px;">29</div>
<div class="t n" style="left:1240px;top:1798.7px;width:163px;height:47px;line-height:47px;">30</div>
<div class="t n" style="left:1406px;top:1798.7px;width:162px;height:47px;line-height:47px;">31</div>
<div class="t s" style="left:167px;top:1505.5px;width:243px;height:345px;line-height:345px;"><span class="w">暑假</span></div>
<div class="hei" style="left:88px;top:1862.4px;line-height:30px">说明：</div>
<div class="kai" style="left:133.5px;top:1893.0px"><span class="k">一、校历表中阴影部分代表节假日。</span></div>
<div class="kai" style="left:133.5px;top:1922.2px"><span class="k">二、第二学期安排：</span></div>
<div class="kai" style="left:133.5px;top:1951.4px"><span class="d">1<span class="dot">.</span>2</span><span class="k2">月</span><span class="d">22</span><span class="k2">日（周六）、</span><span class="d">2</span><span class="k2">月</span><span class="d">23</span><span class="k2">日（周日）在校生返校报到、</span></div>
<div class="kai" style="left:85.5px;top:1980.6px"><span class="k">注册，</span><span class="d">2</span><span class="k">月</span><span class="d">24</span><span class="k">日（周一）正式上课。</span></div>
<div class="kai" style="left:133.5px;top:2009.8px"><span class="d">2<span class="dot">.</span>7</span><span class="k2">月</span><span class="d">14</span><span class="k2">日（周一）学生放假，</span><span class="d">7</span><span class="k2">月</span><span class="d">17</span><span class="k2">日（周四）教职工开</span></div>
<div class="kai" style="left:85.5px;top:2039.0px"><span class="k">始轮休。</span></div>
<div class="kai" style="left:133.5px;top:2068.2px"><span class="d">3<span class="dot">.</span>8</span><span class="k">月</span><span class="d">28</span><span class="k">日（周四）全体教职工上班。</span></div>
<div class="kai" style="left:133.5px;top:2097.4px"><span class="d">4<span class="dot">.</span>8</span><span class="k2">月</span><span class="d">30</span><span class="k2">日（周六）、</span><span class="d">8</span><span class="k2">月</span><span class="d">31</span><span class="k2">日（周日）在校生返校报到、</span></div>
<div class="kai" style="left:85.5px;top:2126.6px"><span class="k">注册。</span><span class="d">9</span><span class="k">月</span><span class="d">1</span><span class="k">日（周一）正式上课。</span></div>
<div class="kai" style="left:133.5px;top:2155.8px"><span class="d">5<span class="dot">.</span></span><span class="k2">清明节、劳动节、端午节、暑期安排，以上级要求和学</span></div>
<div class="kai" style="left:85.5px;top:2185.0px"><span class="k">校具体通知为准，校历表仅供参考使用。</span></div>
<div class="hei" style="left:863px;top:1862.4px;line-height:30px">上课时间：</div>
<div class="th" style="left:909.5px;top:1905.5px;width:220.0px;height:49.200000000000045px;line-height:56.2px;background:#7b1860;color:#fbe9f5">上午</div>
<div class="th" style="left:1129.5px;top:1905.5px;width:220.0px;height:49.200000000000045px;line-height:56.2px;background:#be87b6;color:#1a0a1a">下午</div>
<div class="th" style="left:1349.5px;top:1905.5px;width:220.5px;height:49.200000000000045px;line-height:56.2px;background:#aca0d3;color:#1a0a1a">晚上</div>
<div class="td s" style="left:909.5px;top:1954.7px;width:220.0px;height:49.0px;line-height:52.6px">第1节&nbsp;&nbsp;08:00-08:45</div>
<div class="td s" style="left:1129.5px;top:1954.7px;width:220.0px;height:49.0px;line-height:52.6px">第5节&nbsp;&nbsp;13:30-14:15</div>
<div class="td s" style="left:1349.5px;top:1954.7px;width:220.5px;height:49.0px;line-height:52.6px">第9节&nbsp;&nbsp;18:00-18:45</div>
<div class="td s" style="left:909.5px;top:2003.7px;width:220.0px;height:48.8px;line-height:52.4px">第2节&nbsp;&nbsp;08:50-09:35</div>
<div class="td s" style="left:1129.5px;top:2003.7px;width:220.0px;height:48.8px;line-height:52.4px">第6节&nbsp;&nbsp;14:20-15:05</div>
<div class="td s" style="left:1349.5px;top:2003.7px;width:220.5px;height:48.8px;line-height:52.4px">第10节&nbsp;&nbsp;18:50-19:35</div>
<div class="td s" style="left:909.5px;top:2052.5px;width:220.0px;height:48.7px;line-height:52.3px">第3节&nbsp;&nbsp;见备注</div>
<div class="td s" style="left:1129.5px;top:2052.5px;width:220.0px;height:48.7px;line-height:52.3px">第7节&nbsp;&nbsp;15:25-16:10</div>
<div class="td s" style="left:1349.5px;top:2052.5px;width:220.5px;height:48.7px;line-height:52.3px">第11节&nbsp;&nbsp;19:40-20:25</div>
<div class="td s" style="left:909.5px;top:2101.2px;width:220.0px;height:49.1px;line-height:52.7px">第4节&nbsp;&nbsp;见备注</div>
<div class="td s" style="left:1129.5px;top:2101.2px;width:220.0px;height:49.1px;line-height:52.7px">第8节&nbsp;&nbsp;16:15-17:00</div>
<div class="td s" style="left:1349.5px;top:2101.2px;width:220.5px;height:49.1px;line-height:52.7px;color:#555;letter-spacing:-3px">——</div>
<div class="rm s" style="left:912.5px;top:2158.2000000000003px">备注：第三教学楼第3节9:55-10:40，第4节10:45-11:30；<br>其他教学楼都为第3节10:05-10:50，第4节10:55-11:40。</div>
<div class="tl" style="left:909.5px;top:1905.0px;width:660.5px;height:1.2px"></div>
<div class="tl" style="left:909.5px;top:1954.2px;width:660.5px;height:1.2px"></div>
<div class="tl" style="left:909.5px;top:2003.2px;width:660.5px;height:1.2px"></div>
<div class="tl" style="left:909.5px;top:2052.0px;width:660.5px;height:1.2px"></div>
<div class="tl" style="left:909.5px;top:2100.7px;width:660.5px;height:1.2px"></div>
<div class="tl" style="left:909.5px;top:2149.8px;width:660.5px;height:1.2px"></div>
<div class="tl" style="left:909.5px;top:2215.0px;width:660.5px;height:1.2px"></div>
<div class="tl" style="left:909.0px;top:1905.5px;width:1.2px;height:310.0px"></div>
<div class="tl" style="left:1129.0px;top:1905.5px;width:1.2px;height:244.8px"></div>
<div class="tl" style="left:1349.0px;top:1905.5px;width:1.2px;height:244.8px"></div>
<div class="tl" style="left:1569.5px;top:1905.5px;width:1.2px;height:310.0px"></div>
</div>
</body>
</html>
